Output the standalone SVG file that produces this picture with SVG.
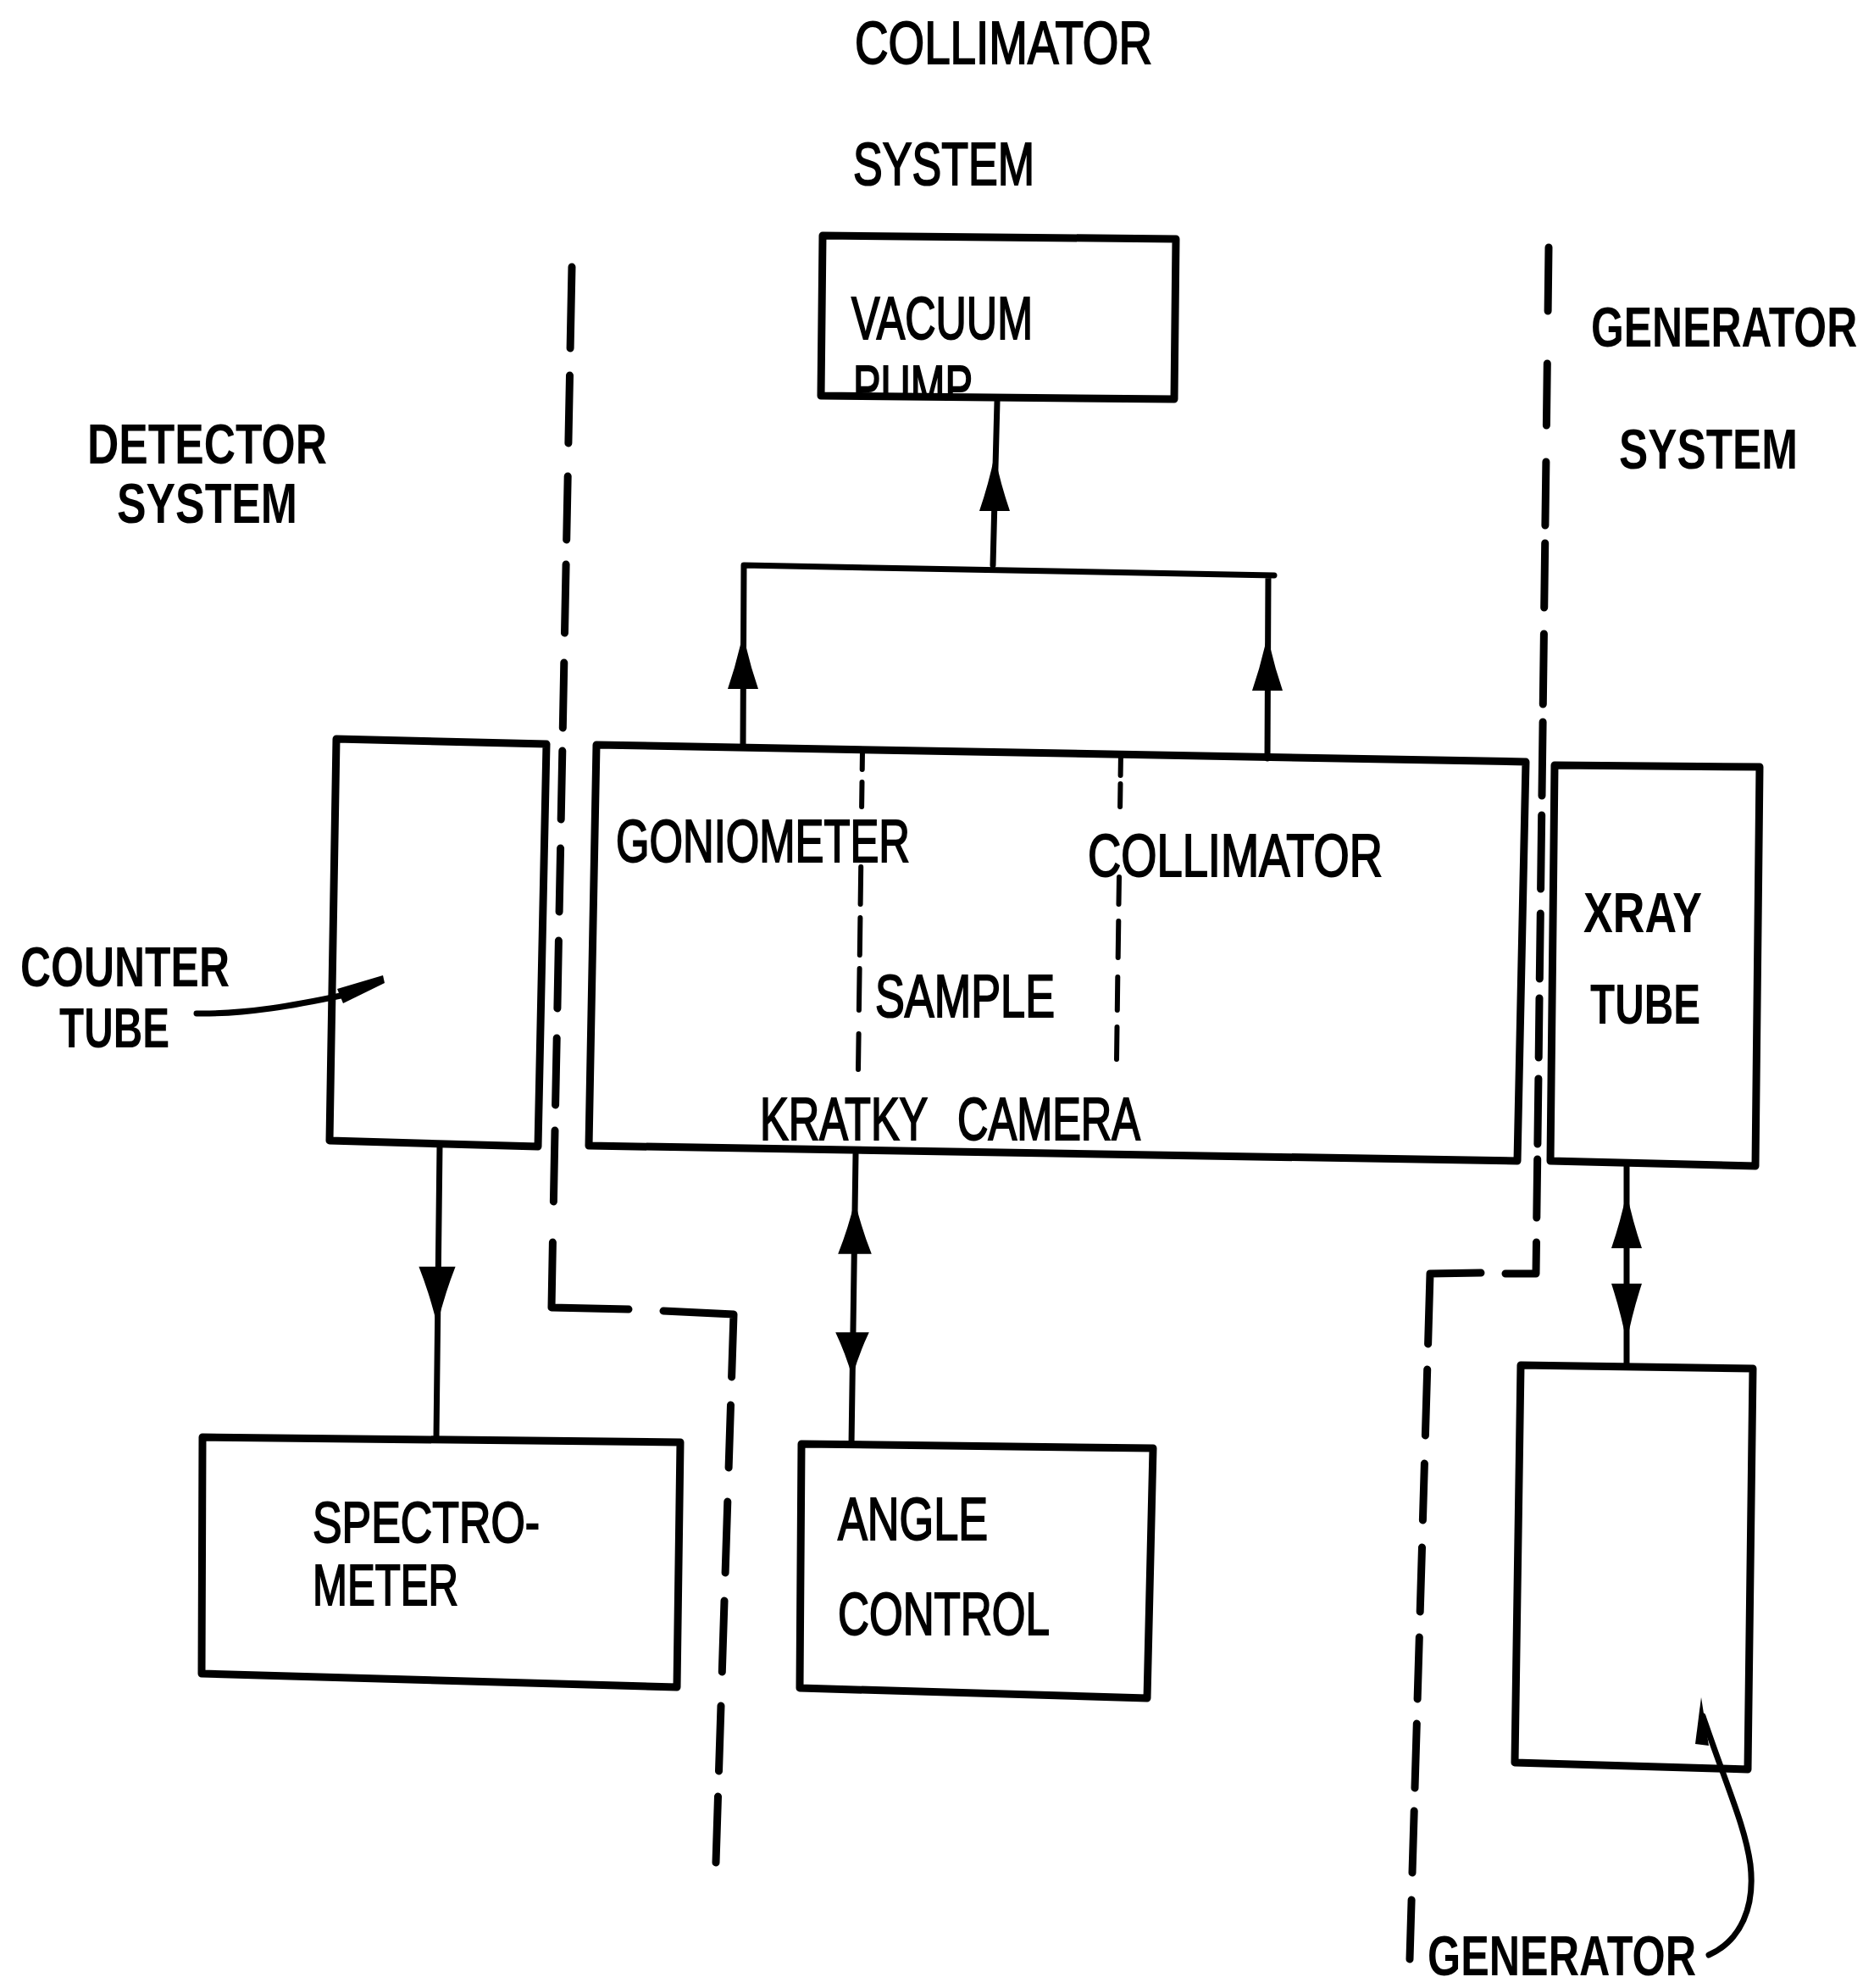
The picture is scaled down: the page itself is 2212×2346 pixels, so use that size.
<svg xmlns="http://www.w3.org/2000/svg" xmlns:xlink="http://www.w3.org/1999/xlink" width="2212" height="2346" viewBox="0 0 2212 2346">
<style>
.box{fill:none;stroke:#000;stroke-width:9;stroke-linejoin:round}
.con{fill:none;stroke:#000;stroke-width:7;stroke-linecap:round;stroke-linejoin:round}
.dash{fill:none;stroke:#000;stroke-width:9;stroke-linecap:round;stroke-linejoin:round}
.idash{fill:none;stroke:#000;stroke-width:6;stroke-linecap:round}
.c{font-family:"Liberation Sans",Arial,sans-serif;font-size:70px;fill:#000;stroke:#000;stroke-width:2}
.b{font-family:"Liberation Sans",Arial,sans-serif;font-size:67px;font-weight:bold;fill:#000}
.m{font-family:"Liberation Sans",Arial,sans-serif;font-size:68px;fill:#000;stroke:#000;stroke-width:2}
</style>
<defs>
<path id="ah" d="M0,0 Q-7,34 -18,66 L18,66 Q7,34 0,0 Z" fill="#000"/>
<clipPath id="pumpclip"><rect x="950" y="400" width="300" height="66"/></clipPath>
</defs>
<rect width="2212" height="2346" fill="#fff"/>

<g id="boundaries">
<path class="dash" d="M675,315 L673.1,411 M672.5,443 L670.9,523 M670.2,562 L668.7,637 M668.1,666 L666.5,747 M665.8,782 L664.3,859 M663.8,886 L662.2,967 M661.6,1001 L660.1,1076 M659.4,1110 L657.9,1190 M657.2,1225 L655.6,1304 M655,1334 L653.4,1418 M652.4,1466 L651,1543 L742,1545 M783,1547 L866,1551 L863.6,1625 M862.5,1658 L860.1,1732 M858.8,1772 L856.1,1856 M855,1889 L852.3,1973 M851,2013 L848.5,2090 M847.5,2120 L845,2198"/>
<path class="dash" d="M1828,292 L1827.1,367 M1826.3,429 L1825.4,502 M1824.9,545 L1823.9,620 M1823.7,641 L1822.7,717 M1822.4,748 L1821.3,831 M1821.1,852 L1820,939 M1819.7,962 L1818.6,1049 M1818.3,1078 L1817.3,1155 M1817,1178 L1816.2,1248 M1815.9,1273 L1814.9,1350 M1814.7,1368 L1813.8,1437 M1813.5,1466 L1813,1503 L1777,1503 M1748,1502 L1688,1503 L1685.6,1586 M1684.7,1616 L1682.4,1694 M1681.4,1727 L1679.4,1794 M1678.5,1826 L1676.2,1902 M1675.3,1932 L1673.1,2005 M1672.3,2034 L1670,2110 M1669.2,2137 L1667,2210 M1666.1,2242 L1664,2312"/>
</g>

<g id="labels">
<text class="c" x="1009" y="75" textLength="351" lengthAdjust="spacingAndGlyphs">COLLIMATOR</text>
<text class="c" x="1007" y="218" font-size="67" textLength="214" lengthAdjust="spacingAndGlyphs">SYSTEM</text>
<text class="b" x="103" y="547" font-size="66" textLength="283" lengthAdjust="spacingAndGlyphs">DETECTOR</text>
<text class="b" x="138" y="617" font-size="66" textLength="213" lengthAdjust="spacingAndGlyphs">SYSTEM</text>
<text class="b" transform="translate(1878,409) scale(0.745,1)" x="0" y="0" font-size="70">GENERATOR</text>
<text class="b" x="1911" y="553" font-size="70" textLength="211" lengthAdjust="spacingAndGlyphs">SYSTEM</text>
<text class="b" x="24" y="1164" font-size="65" textLength="247" lengthAdjust="spacingAndGlyphs">COUNTER</text>
<text class="b" x="70" y="1236" font-size="65" textLength="130" lengthAdjust="spacingAndGlyphs">TUBE</text>
<text class="b" x="1685" y="2331" font-size="66" textLength="317" lengthAdjust="spacingAndGlyphs">GENERATOR</text>
</g>

<g id="vacuum-pump">
<polygon class="box" points="971,278 1388,282 1386,471 969,467"/>
<text class="c" x="1005" y="400" font-size="72" textLength="214" lengthAdjust="spacingAndGlyphs">VACUUM</text>
<text class="c" x="1007" y="481" font-size="72" textLength="141" lengthAdjust="spacingAndGlyphs" clip-path="url(#pumpclip)">PUMP</text>
</g>

<g id="kratky-camera">
<polygon class="box" points="704,879 1801,899 1791,1370 695,1352"/>
<path class="idash" d="M1018,886 L1017.7,908 M1017.5,923 L1017.1,952 M1016.2,1023 L1015.6,1067 M1015.4,1083 L1014.8,1127 M1014.6,1143 L1013.9,1192 M1013.6,1220 L1013,1262"/>
<path class="idash" d="M1323,889 L1322.6,915 M1322.5,925 L1322.1,952 M1321,1035 L1320.5,1067 M1320.3,1087 L1319.7,1130 M1319.3,1153 L1318.8,1192 M1318.5,1212 L1318,1250"/>
<text class="c" x="727" y="1017" textLength="347" lengthAdjust="spacingAndGlyphs">GONIOMETER</text>
<text class="c" x="1284" y="1034" textLength="348" lengthAdjust="spacingAndGlyphs">COLLIMATOR</text>
<text class="c" x="1033" y="1200" font-size="71" textLength="212" lengthAdjust="spacingAndGlyphs">SAMPLE</text>
<text class="c" x="897" y="1345" textLength="449" lengthAdjust="spacingAndGlyphs" word-spacing="30">KRATKY CAMERA</text>
</g>

<g id="counter-tube">
<polygon class="box" points="397,872 645,878 635,1353 389,1346"/>
</g>

<g id="spectrometer">
<polygon class="box" points="239,1696 803,1702 799,1991 238,1975"/>
<text class="m" x="369" y="1820" textLength="268" lengthAdjust="spacingAndGlyphs">SPECTRO-</text>
<text class="m" x="369" y="1894" font-size="64" textLength="172" lengthAdjust="spacingAndGlyphs">METER</text>
</g>

<g id="angle-control">
<polygon class="box" points="946,1704 1361,1709 1354,2004 944,1992"/>
<text class="c" x="989" y="1817" textLength="177" lengthAdjust="spacingAndGlyphs">ANGLE</text>
<text class="c" x="989" y="1929" textLength="250" lengthAdjust="spacingAndGlyphs">CONTROL</text>
</g>

<g id="xray-tube">
<polygon class="box" points="1835,903 2077,905 2072,1376 1830,1370"/>
<text class="b" x="1869" y="1100" font-size="73" textLength="140" lengthAdjust="spacingAndGlyphs">XRAY</text>
<text class="b" x="1877" y="1208" font-size="73" textLength="130" lengthAdjust="spacingAndGlyphs">TUBE</text>
</g>

<g id="generator">
<polygon class="box" points="1795,1611 2069,1615 2063,2088 1788,2080"/>
</g>

<g id="connectors">
<path class="con" d="M1177,474 L1172,667"/>
<path class="con" d="M877,880 L878,667 L1504,679 M1497,679 L1496,895"/>
<path class="con" d="M519,1352 L515,1697"/>
<path class="con" d="M1010,1362 L1005,1705"/>
<path class="con" d="M1920,1374 L1920,1612"/>
<use xlink:href="#ah" transform="translate(1174,537)"/>
<use xlink:href="#ah" transform="translate(877,747)"/>
<use xlink:href="#ah" transform="translate(1496,749)"/>
<use xlink:href="#ah" transform="translate(516,1564) rotate(180) scale(1.2,1.05)"/>
<use xlink:href="#ah" transform="translate(1009,1417) scale(1.1,0.95)"/>
<use xlink:href="#ah" transform="translate(1006,1625) rotate(180) scale(1.1,0.8)"/>
<use xlink:href="#ah" transform="translate(1920,1407) scale(1,1)"/>
<use xlink:href="#ah" transform="translate(1920,1584) rotate(180) scale(1,1.05)"/>
<path class="con" d="M232,1196 C290,1197 350,1186 402,1175"/>
<polygon points="398,1167 452,1151 454,1160 405,1184" fill="#000"/>
<path class="con" d="M2017,2307 C2055,2290 2072,2250 2066,2200 C2060,2155 2038,2108 2010,2025"/>
<polygon points="2008,2003 2001,2058 2017,2060" fill="#000"/>
</g>
</svg>
